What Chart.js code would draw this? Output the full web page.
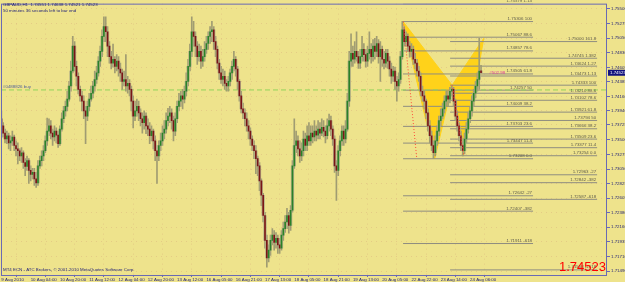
<!DOCTYPE html>
<html>
<head>
<meta charset="utf-8">
<style>
  html, body { margin: 0; padding: 0; background: #eee38c; }
  #wrap { width: 625px; height: 282px; }
</style>
<script src="https://cdn.jsdelivr.net/npm/chart.js@4.4.0/dist/chart.umd.min.js"></script>
</head>
<body>
<div id="wrap"><canvas id="chart" width="625" height="282"></canvas></div>
<script>
// GBPAUD H1, 9 Aug - 24 Aug 2010
const open = [
  1.7382,1.7371,1.7360,1.7351,1.7356,1.7345,1.7348,1.7354,1.7341,1.7336,
  1.7333,1.7325,1.7330,1.7315,1.7309,1.7318,1.7303,1.7297,1.7300,1.7290,
  1.7284,1.7310,1.7318,1.7325,1.7333,1.7348,1.7363,1.7371,1.7360,1.7354,
  1.7363,1.7357,1.7344,1.7366,1.7382,1.7394,1.7401,1.7412,1.7432,1.7455,
  1.7493,1.7462,1.7447,1.7427,1.7417,1.7409,1.7394,1.7386,1.7401,1.7412,
  1.7421,1.7432,1.7442,1.7452,1.7470,1.7485,1.7508,1.7523,1.7515,1.7493,
  1.7477,1.7467,1.7473,1.7462,1.7470,1.7458,1.7452,1.7439,1.7442,1.7432,
  1.7436,1.7427,1.7409,1.7386,1.7394,1.7401,1.7391,1.7382,1.7376,1.7386,
  1.7371,1.7366,1.7356,1.7363,1.7348,1.7333,1.7325,1.7341,1.7348,1.7360,
  1.7366,1.7379,1.7386,1.7391,1.7379,1.7363,1.7382,1.7401,1.7409,1.7417,
  1.7412,1.7424,1.7439,1.7462,1.7485,1.7515,1.7508,1.7493,1.7477,1.7485,
  1.7470,1.7477,1.7488,1.7497,1.7508,1.7515,1.7518,1.7500,1.7488,1.7467,
  1.7452,1.7442,1.7447,1.7436,1.7432,1.7439,1.7452,1.7462,1.7473,1.7458,
  1.7439,1.7417,1.7397,1.7391,1.7382,1.7371,1.7363,1.7351,1.7341,1.7333,
  1.7321,1.7310,1.7287,1.7265,1.7234,1.7196,1.7169,1.7181,1.7196,1.7204,
  1.7193,1.7199,1.7189,1.7184,1.7204,1.7214,1.7224,1.7234,1.7219,1.7242,
  1.7310,1.7341,1.7348,1.7336,1.7325,1.7333,1.7351,1.7341,1.7356,1.7348,
  1.7360,1.7354,1.7363,1.7357,1.7366,1.7360,1.7369,1.7363,1.7356,1.7371,
  1.7379,1.7366,1.7351,1.7310,1.7303,1.7333,1.7348,1.7363,1.7351,1.7366,
  1.7409,1.7470,1.7482,1.7473,1.7485,1.7477,1.7467,1.7477,1.7488,1.7480,
  1.7470,1.7482,1.7488,1.7477,1.7493,1.7485,1.7497,1.7477,1.7488,1.7473,
  1.7467,1.7482,1.7470,1.7458,1.7447,1.7455,1.7439,1.7432,1.7442,1.7477,
  1.7518,1.7500,1.7508,1.7493,1.7485,1.7488,1.7473,1.7467,1.7455,1.7447,
  1.7424,1.7417,1.7409,1.7391,1.7371,1.7356,1.7341,1.7330,1.7348,1.7363,
  1.7379,1.7386,1.7397,1.7409,1.7417,1.7412,1.7424,1.7427,1.7409,1.7386,
  1.7371,1.7356,1.7341,1.7333,1.7351,1.7366,1.7382,1.7394,1.7409,1.7421,
  1.7432,1.7442,1.74551
];
const high = [
  1.7394,1.7376,1.7366,1.7363,1.7360,1.7356,1.7363,1.7357,1.7348,1.7345,
  1.7336,1.7338,1.7333,1.7321,1.7325,1.7321,1.7310,1.7306,1.7306,1.7300,
  1.7318,1.7325,1.7333,1.7341,1.7356,1.7383,1.7382,1.7379,1.7366,1.7371,
  1.7368,1.7363,1.7371,1.7391,1.7401,1.7409,1.7424,1.7439,1.7470,1.7508,
  1.7500,1.7470,1.7452,1.7432,1.7424,1.7417,1.7401,1.7409,1.7421,1.7432,
  1.7439,1.7455,1.7462,1.7477,1.7493,1.7518,1.7538,1.7538,1.7523,1.7500,
  1.7485,1.7496,1.7477,1.7480,1.7477,1.7467,1.7458,1.7455,1.7480,1.7447,
  1.7442,1.7432,1.7417,1.7409,1.7412,1.7409,1.7397,1.7391,1.7394,1.7391,
  1.7382,1.7376,1.7371,1.7366,1.7356,1.7341,1.7348,1.7360,1.7371,1.7379,
  1.7391,1.7398,1.7401,1.7397,1.7386,1.7391,1.7409,1.7421,1.7424,1.7427,
  1.7432,1.7452,1.7473,1.7496,1.7538,1.7531,1.7515,1.7500,1.7496,1.7493,
  1.7488,1.7500,1.7508,1.7515,1.7523,1.7531,1.7523,1.7508,1.7493,1.7473,
  1.7462,1.7458,1.7455,1.7442,1.7447,1.7458,1.7470,1.7485,1.7477,1.7462,
  1.7442,1.7424,1.7406,1.7397,1.7391,1.7379,1.7368,1.7356,1.7348,1.7341,
  1.7325,1.7315,1.7290,1.7268,1.7239,1.7204,1.7189,1.7204,1.7214,1.7211,
  1.7208,1.7204,1.7199,1.7211,1.7224,1.7234,1.7245,1.7239,1.7249,1.7318,
  1.7382,1.7363,1.7356,1.7348,1.7345,1.7363,1.7360,1.7371,1.7376,1.7371,
  1.7371,1.7379,1.7371,1.7379,1.7376,1.7382,1.7379,1.7371,1.7382,1.7389,
  1.7386,1.7371,1.7356,1.7318,1.7341,1.7356,1.7371,1.7371,1.7379,1.7421,
  1.7485,1.7512,1.7493,1.7500,1.7515,1.7485,1.7488,1.7508,1.7497,1.7488,
  1.7493,1.7515,1.7497,1.7503,1.7505,1.7508,1.7503,1.7500,1.7493,1.7485,
  1.7488,1.7488,1.7477,1.7467,1.7462,1.7461,1.7447,1.7452,1.7485,1.7531,
  1.7523,1.7515,1.7512,1.7500,1.7497,1.7493,1.7482,1.7473,1.7462,1.7452,
  1.7432,1.7424,1.7412,1.7397,1.7379,1.7363,1.7348,1.7356,1.7371,1.7386,
  1.7397,1.7406,1.7417,1.7424,1.7424,1.7430,1.7432,1.7430,1.7412,1.7394,
  1.7376,1.7363,1.7348,1.7360,1.7376,1.7391,1.7401,1.7417,1.7427,1.7439,
  1.7452,1.7505,1.74638
];
const low = [
  1.7353,1.7354,1.7345,1.7344,1.7336,1.7333,1.7341,1.7333,1.7325,1.7313,
  1.7318,1.7315,1.7306,1.7295,1.7303,1.7283,1.7287,1.7290,1.7280,1.7277,
  1.7280,1.7306,1.7310,1.7318,1.7330,1.7341,1.7356,1.7351,1.7341,1.7348,
  1.7345,1.7338,1.7341,1.7363,1.7376,1.7386,1.7394,1.7409,1.7424,1.7452,
  1.7455,1.7432,1.7420,1.7409,1.7394,1.7382,1.7344,1.7379,1.7394,1.7409,
  1.7414,1.7424,1.7436,1.7447,1.7462,1.7477,1.7500,1.7500,1.7477,1.7467,
  1.7458,1.7461,1.7452,1.7455,1.7447,1.7439,1.7427,1.7432,1.7424,1.7421,
  1.7417,1.7394,1.7368,1.7379,1.7386,1.7379,1.7371,1.7360,1.7366,1.7359,
  1.7356,1.7344,1.7348,1.7336,1.7318,1.7283,1.7318,1.7333,1.7341,1.7351,
  1.7360,1.7371,1.7376,1.7366,1.7348,1.7356,1.7376,1.7394,1.7401,1.7397,
  1.7406,1.7417,1.7432,1.7455,1.7477,1.7493,1.7477,1.7465,1.7470,1.7459,
  1.7462,1.7470,1.7482,1.7488,1.7497,1.7500,1.7488,1.7477,1.7458,1.7442,
  1.7436,1.7432,1.7427,1.7424,1.7424,1.7432,1.7442,1.7455,1.7447,1.7427,
  1.7409,1.7391,1.7382,1.7371,1.7363,1.7351,1.7341,1.7333,1.7321,1.7298,
  1.7295,1.7272,1.7249,1.7224,1.7184,1.7155,1.7163,1.7173,1.7189,1.7181,
  1.7184,1.7176,1.7176,1.7181,1.7196,1.7208,1.7214,1.7207,1.7211,1.7239,
  1.7306,1.7330,1.7325,1.7315,1.7318,1.7325,1.7333,1.7333,1.7341,1.7341,
  1.7345,1.7348,1.7348,1.7351,1.7351,1.7356,1.7354,1.7345,1.7351,1.7363,
  1.7356,1.7341,1.7300,1.7257,1.7295,1.7325,1.7341,1.7341,1.7345,1.7363,
  1.7401,1.7462,1.7462,1.7467,1.7470,1.7459,1.7459,1.7470,1.7470,1.7461,
  1.7462,1.7473,1.7467,1.7470,1.7473,1.7477,1.7467,1.7439,1.7462,1.7458,
  1.7461,1.7459,1.7447,1.7436,1.7439,1.7427,1.7409,1.7424,1.7436,1.7473,
  1.7493,1.7493,1.7485,1.7476,1.7477,1.7465,1.7458,1.7447,1.7439,1.7417,
  1.7409,1.7397,1.7382,1.7363,1.7345,1.7333,1.7321,1.7325,1.7341,1.7356,
  1.7371,1.7382,1.7391,1.7401,1.7401,1.7406,1.7417,1.7401,1.7379,1.7363,
  1.7348,1.7333,1.7325,1.7328,1.7345,1.7360,1.7376,1.7386,1.7401,1.7414,
  1.7424,1.7427,1.74521
];
const close = [
  1.7371,1.7360,1.7351,1.7356,1.7345,1.7348,1.7354,1.7341,1.7336,1.7333,
  1.7325,1.7330,1.7315,1.7309,1.7318,1.7303,1.7297,1.7300,1.7290,1.7284,
  1.7310,1.7318,1.7325,1.7333,1.7348,1.7363,1.7371,1.7360,1.7354,1.7363,
  1.7357,1.7344,1.7366,1.7382,1.7394,1.7401,1.7412,1.7432,1.7455,1.7493,
  1.7462,1.7447,1.7427,1.7417,1.7409,1.7394,1.7386,1.7401,1.7412,1.7421,
  1.7432,1.7442,1.7452,1.7470,1.7485,1.7508,1.7523,1.7515,1.7493,1.7477,
  1.7467,1.7473,1.7462,1.7470,1.7458,1.7452,1.7439,1.7442,1.7432,1.7436,
  1.7427,1.7409,1.7386,1.7394,1.7401,1.7391,1.7382,1.7376,1.7386,1.7371,
  1.7366,1.7356,1.7363,1.7348,1.7333,1.7325,1.7341,1.7348,1.7360,1.7366,
  1.7379,1.7386,1.7391,1.7379,1.7363,1.7382,1.7401,1.7409,1.7417,1.7412,
  1.7424,1.7439,1.7462,1.7485,1.7515,1.7508,1.7493,1.7477,1.7485,1.7470,
  1.7477,1.7488,1.7497,1.7508,1.7515,1.7518,1.7500,1.7488,1.7467,1.7452,
  1.7442,1.7447,1.7436,1.7432,1.7439,1.7452,1.7462,1.7473,1.7458,1.7439,
  1.7417,1.7397,1.7391,1.7382,1.7371,1.7363,1.7351,1.7341,1.7333,1.7321,
  1.7310,1.7287,1.7265,1.7234,1.7196,1.7169,1.7181,1.7196,1.7204,1.7193,
  1.7199,1.7189,1.7184,1.7204,1.7214,1.7224,1.7234,1.7219,1.7242,1.7310,
  1.7341,1.7348,1.7336,1.7325,1.7333,1.7351,1.7341,1.7356,1.7348,1.7360,
  1.7354,1.7363,1.7357,1.7366,1.7360,1.7369,1.7363,1.7356,1.7371,1.7379,
  1.7366,1.7351,1.7310,1.7303,1.7333,1.7348,1.7363,1.7351,1.7366,1.7409,
  1.7470,1.7482,1.7473,1.7485,1.7477,1.7467,1.7477,1.7488,1.7480,1.7470,
  1.7482,1.7488,1.7477,1.7493,1.7485,1.7497,1.7477,1.7488,1.7473,1.7467,
  1.7482,1.7470,1.7458,1.7447,1.7455,1.7439,1.7432,1.7442,1.7477,1.7518,
  1.7500,1.7508,1.7493,1.7485,1.7488,1.7473,1.7467,1.7455,1.7447,1.7424,
  1.7417,1.7409,1.7391,1.7371,1.7356,1.7341,1.7330,1.7348,1.7363,1.7379,
  1.7386,1.7397,1.7409,1.7417,1.7412,1.7424,1.7427,1.7409,1.7386,1.7371,
  1.7356,1.7341,1.7333,1.7351,1.7366,1.7382,1.7394,1.7409,1.7421,1.7432,
  1.7442,1.7455,1.74523
];

const xTickIndex = [0, 16, 32, 48, 64, 80, 96, 112, 128, 144, 160, 176, 192, 208, 224, 240, 256];
const xTickLabels = [
  "9 Aug 2010", "10 Aug 04:00", "10 Aug 20:00", "11 Aug 12:00", "12 Aug 04:00",
  "12 Aug 20:00", "13 Aug 12:00", "16 Aug 05:00", "16 Aug 21:00", "17 Aug 13:00",
  "18 Aug 05:00", "18 Aug 21:00", "19 Aug 13:00", "20 Aug 05:00", "22 Aug 22:00",
  "23 Aug 14:00", "24 Aug 06:00"
];
const yTickLabels = [
  "1.75500", "1.75275", "1.75050", "1.74830", "1.74605", "1.74385", "1.74160",
  "1.73940", "1.73725", "1.73500", "1.73275", "1.73050", "1.72825", "1.72605",
  "1.72380", "1.72160", "1.71935", "1.71710", "1.71490"
];

// pattern points X, A, B, C, D (bar index, price)
const patternIdx = [219.4, 236.7, 246.2, 252.3, 263.5];
const patternPrice = [1.75306, 1.73208, 1.74333, 1.73254, 1.7505];

const fibLevelsXA = [1.13, 1, 0.886, 0.786, 0.618, 0.5, 0.382, 0.236, 0.114, 0, -0.27, -0.382, -0.618];
const fibNamesXA = ["1.13", "100", "88.6", "78.6", "61.8", "50", "38.2", "23.6", "11.4", "0.0", "-27", "-382", "-618"];
const fibLevelsBC = [1.618, 1.382, 1.27, 1.13, 1, 0.886, 0.786, 0.618, 0.5, 0.382, 0.236, 0.114, 0, -0.27, -0.382, -0.618, -1.618];
const fibNamesBC = ["161.8", "1.382", "1.27", "1.13", "100", "88.6", "78.6", "61.8", "50", "38.2", "23.6", "11.4", "0.0", "-27", "-382", "-618", "-1618"];
const fibSpanXA = [219.4, 290.4];
const fibSpanBC = [245.1, 325.4];

const buyPrice = 1.7426;
const buyLabel = "#0488826 buy";
const profitLabel = "#502.98";

const X_MIN = -0.2, X_MAX = 330.8;
const Y_MIN = 1.7143, Y_MAX = 1.7558;

const AXIS = "#6a6ab4";
const TEXT = "#1e1e78";
const FONT = "'Liberation Sans', Arial, sans-serif";

Chart.defaults.font.family = FONT;

const idx = close.map((_, i) => i);
const last = close.length - 1;
const bodyColors = idx.map(i => close[i] >= open[i] ? "#2a8228" : "#7a1616");

const datasets = [];

// yellow pattern triangles
[[0, 1, 2], [2, 3, 4]].forEach(tri => {
    datasets.push({
        type: "line",
        data: [...tri, tri[0]].map(k => ({ x: patternIdx[k], y: patternPrice[k] })),
        fill: "shape",
        backgroundColor: "#ffd21a",
        borderColor: "#ffd21a",
        borderWidth: 1,
        pointRadius: 0,
        tension: 0,
        order: 20,
    });
});

function fibPrice(hi, lo, lvl) {
    return lo + lvl * (hi - lo);
}

const fibSets = [
    { levels: fibLevelsXA, names: fibNamesXA, span: fibSpanXA, hi: patternPrice[0], lo: patternPrice[1] },
    { levels: fibLevelsBC, names: fibNamesBC, span: fibSpanBC, hi: patternPrice[2], lo: patternPrice[3] },
];
fibSets.forEach(set => {
    set.levels.forEach(lvl => {
        const p = fibPrice(set.hi, set.lo, lvl);
        datasets.push({
            type: "line",
            data: [{ x: set.span[0], y: p }, { x: set.span[1], y: p }],
            borderColor: "#8f8d80",
            borderWidth: 1,
            pointRadius: 0,
            order: 15,
        });
    });
});

// buy order line
datasets.push({
    type: "line",
    data: [{ x: X_MIN, y: buyPrice }, { x: X_MAX, y: buyPrice }],
    borderColor: "#93d35c",
    borderWidth: 1,
    borderDash: [5, 3],
    pointRadius: 0,
    order: 14,
});

// candles: shadow, olive body, coloured core
datasets.push({
    type: "bar",
    data: idx.map(i => ({ x: i, y: [low[i], high[i]] })),
    backgroundColor: "#a09c72",
    barThickness: 1,
    grouped: false,
    order: 6,
});
datasets.push({
    type: "bar",
    data: idx.map(i => ({ x: i, y: [open[i], close[i]] })),
    backgroundColor: "#b5b088",
    barThickness: 2.6,
    minBarLength: 1,
    grouped: false,
    order: 5,
});
datasets.push({
    type: "bar",
    data: idx.map(i => ({ x: i, y: [open[i], close[i]] })),
    backgroundColor: bodyColors,
    barThickness: 1,
    minBarLength: 1,
    grouped: false,
    order: 4,
});

// red dotted projection lines
[[0, 1, 219.6, 226.9], [2, 3, 246.2, 252.6]].forEach(([a, b, x0, x1]) => {
    datasets.push({
        type: "line",
        data: [{ x: x0, y: patternPrice[a] }, { x: x1, y: patternPrice[b] }],
        borderColor: "#ff4b3a",
        borderWidth: 1,
        borderDash: [1, 2],
        pointRadius: 0,
        order: 1,
    });
});

const mt4Plugin = {
    id: "mt4Plugin",
    beforeDraw(chart) {
        const { ctx, width, height } = chart;
        ctx.save();
        ctx.fillStyle = "#eee38c";
        ctx.fillRect(0, 0, width, height);
        ctx.restore();
    },
    afterDatasetsDraw(chart) {
        const { ctx, scales } = chart;
        ctx.save();
        ctx.font = "4.4px " + FONT;
        ctx.fillStyle = "#5d5b4c";
        ctx.textAlign = "right";
        ctx.textBaseline = "bottom";
        fibSets.forEach(set => {
            const xEnd = scales.x.getPixelForValue(set.span[1]);
            set.levels.forEach((lvl, k) => {
                const p = fibPrice(set.hi, set.lo, lvl);
                const y = scales.y.getPixelForValue(p);
                ctx.fillText(p.toFixed(5) + " " + set.names[k], xEnd - 1, y - 0.5);
            });
        });
        ctx.restore();
    },
    afterDraw(chart) {
        const { ctx, chartArea, scales } = chart;
        ctx.save();
        // frame
        ctx.strokeStyle = AXIS;
        ctx.lineWidth = 1;
        ctx.strokeRect(chartArea.left + 0.5, chartArea.top + 0.5,
            chartArea.right - chartArea.left - 1, chartArea.bottom - chartArea.top);

        ctx.font = "4.4px " + FONT;
        ctx.textBaseline = "top";
        ctx.textAlign = "left";
        ctx.fillStyle = TEXT;
        const ohlc = [open[last], high[last], low[last], close[last]].map(v => v.toFixed(5)).join(" ");
        ctx.fillText("GBPAUD,H1  " + ohlc, 3, 3);
        ctx.fillText("50 minutes 36 seconds left to bar end", 3, 9);
        ctx.fillText("MT4 ECN - ATC Brokers, \u00a9 2001-2010 MetaQuotes Software Corp.", 3, 268);

        const yBuy = scales.y.getPixelForValue(buyPrice);
        ctx.fillStyle = "#4f5f98";
        ctx.textBaseline = "bottom";
        ctx.fillText(buyLabel, 3, yBuy - 0.5);

        const yLast = scales.y.getPixelForValue(close[last]);
        ctx.fillStyle = "#e0409a";
        ctx.textBaseline = "middle";
        ctx.fillText(profitLabel, scales.x.getPixelForValue(266.5), yLast);

        // current price box on axis
        ctx.fillStyle = "#13137e";
        ctx.fillRect(chartArea.right + 1, yLast - 3, 20, 6);
        ctx.fillStyle = "#ffffff";
        ctx.fillText(close[last].toFixed(5), chartArea.right + 3, yLast + 0.3);

        // big price readout
        ctx.font = "13px " + FONT;
        ctx.fillStyle = "#ff0000";
        ctx.textAlign = "right";
        ctx.textBaseline = "alphabetic";
        ctx.fillText(close[last].toFixed(5), chartArea.right - 1, 271);
        ctx.restore();
    },
};

new Chart(document.getElementById("chart"), {
    type: "bar",
    data: { datasets },
    options: {
        responsive: false,
        animation: false,
        devicePixelRatio: 1,
        layout: { padding: { left: 1, top: 2, right: 0, bottom: 0 } },
        plugins: { legend: { display: false }, tooltip: { enabled: false } },
        scales: {
            x: {
                type: "linear",
                min: X_MIN,
                max: X_MAX,
                offset: false,
                afterBuildTicks(scale) {
                    scale.ticks = xTickIndex.map(v => ({ value: v }));
                },
                afterFit(scale) {
                    scale.height = 7;
                },
                ticks: {
                    autoSkip: false,
                    maxRotation: 0,
                    align: "start",
                    padding: 0,
                    color: TEXT,
                    font: { size: 4.4 },
                    callback: (v, i) => xTickLabels[i],
                },
                grid: {
                    color: "rgba(210,150,120,0.3)",
                    borderDash: [1, 4],
                    tickLength: 2,
                    tickColor: AXIS,
                    tickBorderDash: [],
                },
                border: { display: false, dash: [1, 4] },
            },
            y: {
                type: "linear",
                position: "right",
                min: Y_MIN,
                max: Y_MAX,
                afterBuildTicks(scale) {
                    scale.ticks = yTickLabels.map(s => ({ value: Number(s) }));
                },
                afterFit(scale) {
                    scale.width = 18;
                },
                ticks: {
                    autoSkip: false,
                    padding: 1,
                    color: TEXT,
                    font: { size: 4.4 },
                    callback: (v, i) => yTickLabels[i],
                },
                grid: {
                    color: "rgba(210,150,120,0.3)",
                    borderDash: [1, 4],
                    tickLength: 3,
                    tickColor: AXIS,
                    tickBorderDash: [],
                },
                border: { display: false, dash: [1, 4] },
            },
        },
    },
    plugins: [mt4Plugin],
});
</script>
</body>
</html>
